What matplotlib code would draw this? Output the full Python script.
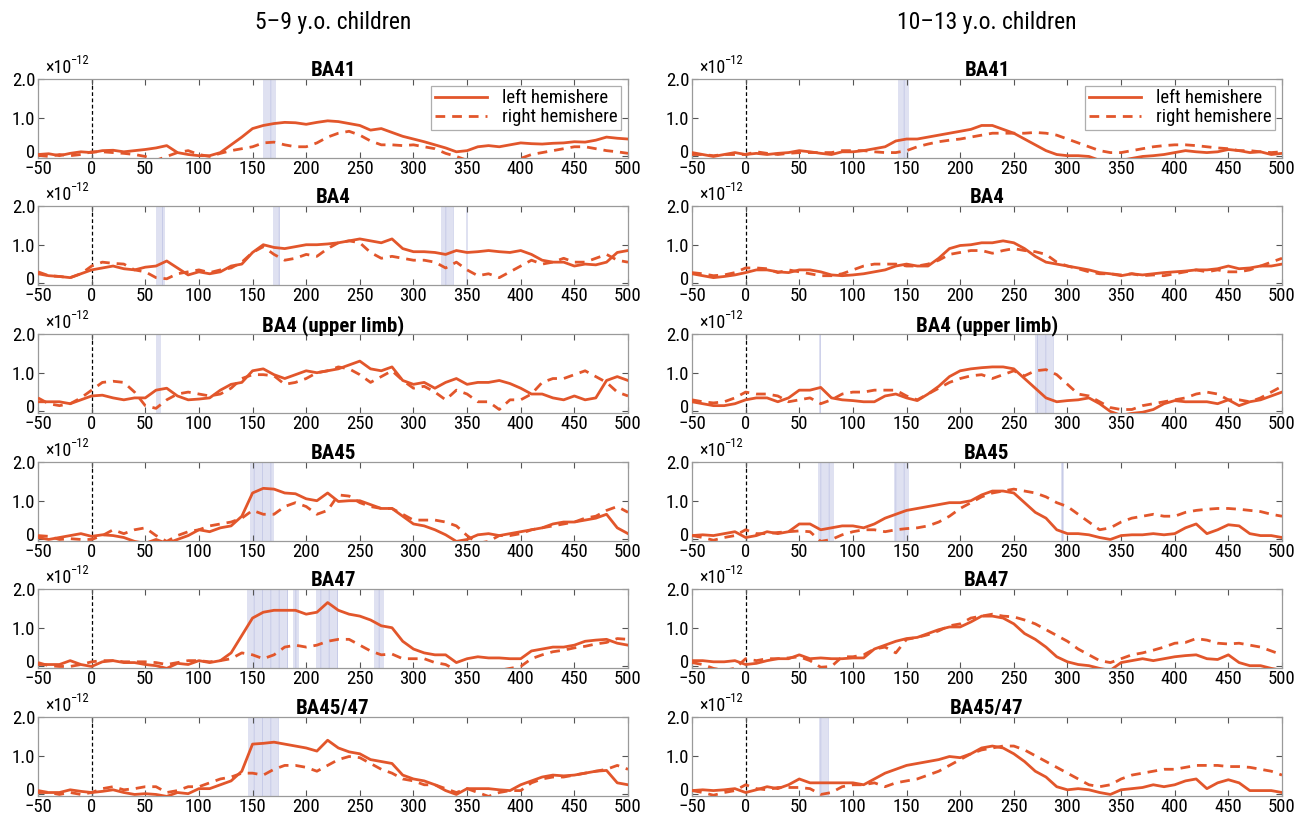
import numpy as np
import matplotlib
matplotlib.use('Agg')
import matplotlib.pyplot as plt
from matplotlib import font_manager
from matplotlib.transforms import ScaledTranslation

names = set(f.name for f in font_manager.fontManager.ttflist)
cond = [n for n in ['Roboto Condensed', 'Liberation Sans Narrow', 'DejaVu Sans Condensed'] if n in names]
plt.rcParams['font.family'] = cond + ['DejaVu Sans']
plt.rcParams['font.stretch'] = 'condensed'
plt.rcParams['hatch.linewidth'] = 0.6

# time axis, ms (sampled every 10 ms)
time_ms = np.arange(-50, 501, 10)

# ---------------- 5-9 y.o. children ----------------
ba41_young_left = [0.05, 0.07, 0.02, 0.08, 0.12,
                   0.10, 0.15, 0.16, 0.12, 0.15, 0.18, 0.22, 0.28, 0.10, 0.05,
                   0.02, 0.02, 0.10, 0.30, 0.50, 0.72, 0.80, 0.85, 0.88, 0.87,
                   0.83, 0.88, 0.92, 0.90, 0.85, 0.80, 0.68, 0.72, 0.62, 0.52,
                   0.45, 0.38, 0.30, 0.22, 0.12, 0.15, 0.25, 0.28, 0.25, 0.30,
                   0.35, 0.33, 0.32, 0.34, 0.35, 0.38, 0.37, 0.42, 0.50, 0.47,
                   0.45]
ba41_young_right = [0.03, 0.00, 0.05, 0.02, 0.05,
                    0.12, 0.12, 0.10, 0.08, 0.05, 0.00, -0.10, 0.00, 0.10, 0.15,
                    0.05, 0.00, 0.08, 0.15, 0.20, 0.25, 0.35, 0.37, 0.30, 0.25,
                    0.25, 0.35, 0.50, 0.60, 0.65, 0.55, 0.40, 0.30, 0.30, 0.28,
                    0.30, 0.25, 0.20, 0.08, 0.00, -0.10, -0.20, -0.20, -0.20, -0.15,
                    -0.05, 0.05, 0.10, 0.15, 0.20, 0.25, 0.25, 0.20, 0.15, 0.12,
                    0.08]
ba4_young_left = [0.25, 0.20, 0.18, 0.15, 0.25,
                  0.35, 0.40, 0.45, 0.38, 0.35, 0.42, 0.45, 0.58, 0.40, 0.22,
                  0.30, 0.25, 0.30, 0.45, 0.50, 0.80, 1.00, 0.93, 0.90, 0.95,
                  1.00, 1.00, 1.02, 1.05, 1.10, 1.15, 1.10, 1.05, 1.15, 0.90,
                  0.82, 0.82, 0.80, 0.75, 0.85, 0.80, 0.82, 0.85, 0.82, 0.80,
                  0.85, 0.75, 0.60, 0.55, 0.55, 0.45, 0.50, 0.48, 0.55, 0.80,
                  0.85]
ba4_young_right = [0.30, 0.20, 0.18, 0.15, 0.25,
                   0.45, 0.55, 0.52, 0.50, 0.35, 0.30, 0.15, 0.12, 0.25, 0.30,
                   0.35, 0.28, 0.35, 0.40, 0.55, 0.80, 0.95, 0.75, 0.60, 0.65,
                   0.75, 0.70, 0.90, 1.05, 1.10, 1.05, 0.80, 0.65, 0.70, 0.65,
                   0.60, 0.60, 0.55, 0.40, 0.55, 0.35, 0.20, 0.25, 0.15, 0.30,
                   0.45, 0.60, 0.50, 0.55, 0.65, 0.55, 0.55, 0.65, 0.75, 0.60,
                   0.55]
ba4ul_young_left = [0.25, 0.25, 0.25, 0.20, 0.30,
                    0.40, 0.42, 0.35, 0.30, 0.35, 0.35, 0.55, 0.60, 0.40, 0.30,
                    0.32, 0.35, 0.55, 0.70, 0.75, 1.05, 1.10, 0.95, 0.85, 0.95,
                    1.05, 1.00, 1.05, 1.10, 1.20, 1.30, 1.10, 1.05, 1.15, 0.80,
                    0.70, 0.75, 0.60, 0.75, 0.85, 0.70, 0.75, 0.75, 0.80, 0.72,
                    0.60, 0.45, 0.45, 0.35, 0.30, 0.40, 0.30, 0.35, 0.80, 0.90,
                    0.80]
ba4ul_young_right = [0.35, 0.20, 0.15, 0.20, 0.35,
                     0.55, 0.75, 0.78, 0.75, 0.50, 0.15, 0.08, 0.30, 0.45, 0.50,
                     0.45, 0.40, 0.45, 0.60, 0.85, 0.95, 0.95, 0.92, 0.70, 0.75,
                     0.85, 1.00, 1.05, 1.15, 1.10, 0.95, 0.75, 0.90, 1.05, 0.80,
                     0.60, 0.65, 0.50, 0.30, 0.55, 0.45, 0.25, 0.25, 0.05, 0.30,
                     0.30, 0.45, 0.75, 0.85, 0.85, 0.95, 1.05, 0.90, 0.75, 0.50,
                     0.40]
ba45_young_left = [0.05, 0.00, 0.05, 0.10, 0.15,
                   0.08, 0.12, 0.10, 0.05, -0.05, -0.10, 0.00, -0.10, 0.00, 0.10,
                   0.25, 0.20, 0.30, 0.35, 0.60, 1.20, 1.32, 1.30, 1.20, 1.18,
                   1.05, 1.00, 1.20, 0.98, 1.00, 1.00, 0.90, 0.80, 0.80, 0.60,
                   0.40, 0.35, 0.25, 0.12, -0.05, 0.00, 0.12, 0.15, 0.10, 0.15,
                   0.20, 0.25, 0.30, 0.40, 0.45, 0.45, 0.50, 0.55, 0.65, 0.30,
                   0.15]
ba45_young_right = [0.10, 0.08, 0.00, 0.02, 0.00,
                    0.00, 0.10, 0.25, 0.15, 0.25, 0.30, 0.10, -0.05, 0.10, 0.20,
                    0.25, 0.35, 0.40, 0.45, 0.55, 0.75, 0.65, 0.65, 0.85, 0.95,
                    0.85, 0.65, 0.75, 1.15, 1.12, 0.95, 0.85, 0.80, 0.80, 0.65,
                    0.50, 0.50, 0.50, 0.45, 0.35, 0.10, -0.10, -0.05, 0.10, 0.10,
                    0.15, 0.25, 0.30, 0.35, 0.40, 0.45, 0.55, 0.60, 0.75, 0.85,
                    0.70]
ba47_young_left = [0.05, 0.05, 0.05, 0.15, 0.05,
                   0.00, 0.12, 0.15, 0.10, 0.10, 0.05, 0.02, -0.05, 0.08, 0.05,
                   0.15, 0.10, 0.15, 0.35, 0.80, 1.25, 1.40, 1.45, 1.45, 1.45,
                   1.35, 1.40, 1.65, 1.45, 1.35, 1.30, 1.20, 1.05, 1.00, 0.65,
                   0.45, 0.35, 0.30, 0.30, 0.10, 0.20, 0.25, 0.22, 0.22, 0.20,
                   0.20, 0.40, 0.45, 0.50, 0.50, 0.55, 0.65, 0.68, 0.70, 0.60,
                   0.55]
ba47_young_right = [0.10, 0.02, 0.00, 0.00, 0.05,
                    0.12, 0.15, 0.15, 0.12, 0.12, 0.12, 0.10, 0.05, 0.10, 0.15,
                    0.15, 0.12, 0.15, 0.20, 0.35, 0.30, 0.20, 0.30, 0.50, 0.55,
                    0.50, 0.55, 0.65, 0.70, 0.70, 0.55, 0.40, 0.30, 0.32, 0.20,
                    0.20, 0.20, 0.10, 0.05, -0.10, -0.20, -0.20, -0.20, -0.10, -0.05,
                    0.00, 0.20, 0.30, 0.38, 0.42, 0.48, 0.52, 0.58, 0.62, 0.72,
                    0.70]
ba4547_young_left = [0.05, 0.05, 0.05, 0.12, 0.08,
                     0.05, 0.08, 0.12, 0.05, 0.00, 0.02, 0.00, -0.05, 0.05, 0.02,
                     0.15, 0.15, 0.25, 0.35, 0.60, 1.30, 1.32, 1.35, 1.30, 1.25,
                     1.20, 1.12, 1.40, 1.20, 1.10, 1.05, 0.90, 0.85, 0.80, 0.50,
                     0.40, 0.35, 0.25, 0.10, 0.00, 0.15, 0.15, 0.15, 0.12, 0.10,
                     0.25, 0.35, 0.45, 0.50, 0.48, 0.50, 0.55, 0.60, 0.62, 0.30,
                     0.25]
ba4547_young_right = [0.10, 0.05, 0.00, 0.05, 0.00,
                      0.05, 0.15, 0.20, 0.12, 0.15, 0.20, 0.20, 0.05, 0.10, 0.20,
                      0.20, 0.30, 0.40, 0.45, 0.55, 0.55, 0.50, 0.65, 0.75, 0.75,
                      0.70, 0.60, 0.75, 0.90, 0.98, 0.95, 0.80, 0.65, 0.55, 0.40,
                      0.35, 0.25, 0.25, 0.15, 0.05, 0.15, 0.05, -0.05, 0.05, 0.10,
                      0.10, 0.30, 0.40, 0.45, 0.45, 0.50, 0.55, 0.60, 0.65, 0.75,
                      0.65]

# ---------------- 10-13 y.o. children ----------------
ba41_old_left = [0.10, 0.05, 0.00, 0.05, 0.10,
                 0.05, 0.08, 0.05, 0.08, 0.10, 0.15, 0.12, 0.08, 0.05, 0.12,
                 0.12, 0.15, 0.20, 0.25, 0.40, 0.45, 0.45, 0.50, 0.55, 0.60,
                 0.65, 0.70, 0.80, 0.80, 0.70, 0.60, 0.45, 0.30, 0.15, 0.05,
                 0.02, 0.02, 0.00, -0.10, -0.15, -0.10, -0.05, 0.00, 0.02, 0.05,
                 0.10, 0.15, 0.12, 0.10, 0.12, 0.18, 0.15, 0.10, 0.12, 0.05,
                 0.08]
ba41_old_right = [0.05, 0.05, 0.02, 0.05, 0.05,
                  0.05, 0.12, 0.08, 0.05, 0.08, 0.10, 0.10, 0.10, 0.10, 0.15,
                  0.15, 0.15, 0.12, 0.10, 0.10, 0.15, 0.25, 0.32, 0.38, 0.42,
                  0.45, 0.50, 0.55, 0.60, 0.60, 0.60, 0.60, 0.62, 0.60, 0.55,
                  0.45, 0.35, 0.25, 0.15, 0.10, 0.10, 0.15, 0.20, 0.25, 0.28,
                  0.30, 0.30, 0.28, 0.25, 0.22, 0.20, 0.15, 0.15, 0.12, 0.10,
                  0.12]
ba4_old_left = [0.25, 0.20, 0.15, 0.18, 0.22,
                0.28, 0.35, 0.35, 0.30, 0.28, 0.35, 0.35, 0.30, 0.22, 0.20,
                0.22, 0.25, 0.30, 0.35, 0.45, 0.50, 0.45, 0.45, 0.65, 0.90,
                0.98, 1.00, 1.05, 1.05, 1.10, 1.05, 0.90, 0.70, 0.55, 0.50,
                0.45, 0.40, 0.35, 0.28, 0.25, 0.20, 0.25, 0.22, 0.25, 0.28,
                0.30, 0.32, 0.35, 0.35, 0.38, 0.45, 0.38, 0.40, 0.45, 0.45,
                0.50]
ba4_old_right = [0.28, 0.25, 0.20, 0.22, 0.28,
                 0.40, 0.40, 0.38, 0.28, 0.35, 0.30, 0.25, 0.20, 0.20, 0.25,
                 0.35, 0.45, 0.50, 0.50, 0.50, 0.45, 0.45, 0.50, 0.60, 0.75,
                 0.80, 0.85, 0.85, 0.78, 0.85, 0.90, 0.85, 0.82, 0.75, 0.55,
                 0.45, 0.38, 0.30, 0.25, 0.25, 0.22, 0.25, 0.20, 0.22, 0.20,
                 0.25, 0.30, 0.35, 0.30, 0.35, 0.30, 0.30, 0.35, 0.45, 0.55,
                 0.65]
ba4ul_old_left = [0.25, 0.20, 0.15, 0.15, 0.20,
                  0.30, 0.35, 0.35, 0.25, 0.35, 0.55, 0.55, 0.62, 0.35, 0.30,
                  0.28, 0.25, 0.25, 0.40, 0.45, 0.35, 0.28, 0.45, 0.65, 0.90,
                  1.05, 1.10, 1.13, 1.15, 1.15, 1.10, 0.85, 0.60, 0.35, 0.25,
                  0.28, 0.30, 0.35, 0.20, 0.00, -0.10, -0.05, -0.02, 0.05, 0.20,
                  0.28, 0.25, 0.25, 0.25, 0.20, 0.30, 0.15, 0.25, 0.30, 0.40,
                  0.50]
ba4ul_old_right = [0.30, 0.25, 0.22, 0.25, 0.35,
                   0.50, 0.45, 0.45, 0.40, 0.25, 0.30, 0.35, 0.20, 0.30, 0.45,
                   0.50, 0.50, 0.55, 0.55, 0.55, 0.40, 0.30, 0.45, 0.60, 0.75,
                   0.85, 0.92, 0.95, 0.85, 0.95, 1.05, 0.92, 1.05, 1.08, 0.95,
                   0.70, 0.45, 0.40, 0.25, 0.10, 0.05, 0.05, 0.15, 0.20, 0.25,
                   0.30, 0.35, 0.45, 0.50, 0.45, 0.30, 0.30, 0.25, 0.35, 0.50,
                   0.65]
ba45_old_left = [0.10, 0.12, 0.10, 0.15, 0.20,
                 0.05, 0.10, 0.20, 0.15, 0.20, 0.40, 0.40, 0.25, 0.30, 0.35,
                 0.35, 0.30, 0.40, 0.55, 0.65, 0.75, 0.80, 0.85, 0.90, 0.95,
                 0.95, 1.00, 1.15, 1.25, 1.25, 1.20, 0.95, 0.70, 0.55, 0.25,
                 0.15, 0.15, 0.12, 0.05, 0.00, 0.10, 0.12, 0.12, 0.15, 0.12,
                 0.15, 0.30, 0.40, 0.15, 0.25, 0.38, 0.35, 0.15, 0.10, 0.10,
                 0.05]
ba45_old_right = [0.10, 0.05, -0.02, 0.05, 0.10,
                  0.25, 0.15, 0.15, 0.18, 0.20, 0.22, 0.20, -0.05, 0.00, 0.12,
                  0.20, 0.25, 0.25, 0.20, 0.25, 0.28, 0.30, 0.35, 0.45, 0.60,
                  0.80, 0.95, 1.10, 1.20, 1.25, 1.30, 1.25, 1.20, 1.10, 0.95,
                  0.85, 0.65, 0.45, 0.25, 0.30, 0.45, 0.55, 0.60, 0.65, 0.60,
                  0.60, 0.70, 0.75, 0.78, 0.80, 0.80, 0.78, 0.75, 0.72, 0.65,
                  0.60]
ba47_old_left = [0.15, 0.15, 0.12, 0.12, 0.15,
                 0.05, 0.08, 0.15, 0.20, 0.20, 0.30, 0.20, 0.22, 0.20, 0.20,
                 0.22, 0.22, 0.45, 0.55, 0.65, 0.72, 0.75, 0.85, 0.95, 1.02,
                 1.02, 1.15, 1.30, 1.30, 1.25, 1.10, 0.85, 0.70, 0.50, 0.25,
                 0.12, 0.05, 0.02, -0.05, -0.10, 0.10, 0.15, 0.20, 0.15, 0.20,
                 0.25, 0.28, 0.30, 0.20, 0.18, 0.30, 0.10, 0.02, 0.02, -0.05,
                 -0.10]
ba47_old_right = [0.10, 0.05, -0.05, -0.10, -0.05,
                  0.20, 0.15, 0.20, 0.20, 0.22, 0.25, 0.15, -0.02, 0.00, 0.25,
                  0.25, 0.30, 0.45, 0.50, 0.35, 0.70, 0.75, 0.82, 0.92, 1.05,
                  1.10, 1.25, 1.30, 1.35, 1.30, 1.28, 1.20, 1.10, 0.95, 0.80,
                  0.65, 0.45, 0.30, 0.15, 0.10, 0.20, 0.30, 0.35, 0.42, 0.50,
                  0.60, 0.62, 0.72, 0.68, 0.60, 0.58, 0.60, 0.55, 0.50, 0.40,
                  0.30]
ba4547_old_left = [0.10, 0.12, 0.10, 0.12, 0.15,
                   0.05, 0.12, 0.20, 0.15, 0.25, 0.40, 0.30, 0.30, 0.30, 0.30,
                   0.30, 0.25, 0.40, 0.55, 0.65, 0.75, 0.80, 0.85, 0.90, 0.98,
                   0.95, 1.05, 1.20, 1.25, 1.20, 1.05, 0.85, 0.60, 0.45, 0.20,
                   0.12, 0.15, 0.12, 0.05, 0.00, 0.12, 0.15, 0.18, 0.25, 0.20,
                   0.25, 0.35, 0.40, 0.15, 0.30, 0.38, 0.30, 0.10, 0.10, 0.10,
                   0.05]
ba4547_old_right = [0.10, 0.05, -0.02, 0.05, 0.10,
                    0.25, 0.15, 0.12, 0.18, 0.18, 0.18, 0.15, 0.00, 0.05, 0.20,
                    0.25, 0.25, 0.30, 0.20, 0.30, 0.35, 0.40, 0.50, 0.60, 0.75,
                    0.90, 1.05, 1.15, 1.20, 1.25, 1.25, 1.15, 1.00, 0.85, 0.70,
                    0.55, 0.40, 0.25, 0.20, 0.25, 0.40, 0.50, 0.55, 0.60, 0.65,
                    0.65, 0.70, 0.75, 0.75, 0.75, 0.72, 0.72, 0.70, 0.65, 0.60,
                    0.50]

titles = ['BA41', 'BA4', 'BA4 (upper limb)', 'BA45', 'BA47', 'BA45/47']
group_titles = ['5\u20139 y.o. children', '10\u201313 y.o. children']

young_left = [ba41_young_left, ba4_young_left, ba4ul_young_left, ba45_young_left, ba47_young_left, ba4547_young_left]
young_right = [ba41_young_right, ba4_young_right, ba4ul_young_right, ba45_young_right, ba47_young_right, ba4547_young_right]
old_left = [ba41_old_left, ba4_old_left, ba4ul_old_left, ba45_old_left, ba47_old_left, ba4547_old_left]
old_right = [ba41_old_right, ba4_old_right, ba4ul_old_right, ba45_old_right, ba47_old_right, ba4547_old_right]

# significant intervals (ms)
young_sig = [[(160, 172)],
             [(60, 68), (169, 176), (326, 338), (349, 351)],
             [(60, 65)],
             [(148, 170)],
             [(145, 183), (188, 193), (209, 230), (263, 273)],
             [(146, 175)]]
old_sig = [[(142, 152)],
           [],
           [(68, 70), (270, 287)],
           [(67, 82), (138, 152), (294, 297)],
           [],
           [(68, 78)]]

line_color = '#e2562b'
fig = plt.figure(figsize=(13.06, 8.19), dpi=100)

col_left = [38 / 1306, 692 / 1306]
col_width = 590 / 1306
row_tops = [79, 206, 334, 462, 589, 717]
ax_h = 79 / 819

columns = [(young_left, young_right, young_sig), (old_left, old_right, old_sig)]

for c, (lefts, rights, sigs) in enumerate(columns):
    for r in range(6):
        bottom = 1 - (row_tops[r] + 79) / 819
        ax = fig.add_axes([col_left[c], bottom, col_width, ax_h])
        for a, b in sigs[r]:
            ax.axvspan(a, b, facecolor='#dfe1f1', edgecolor='#c3c7e6', hatch='||', linewidth=0, zorder=0)
        ax.axvline(0, color='black', linestyle=(0, (3, 2)), linewidth=0.9, zorder=1)
        ax.plot(time_ms, lefts[r], color=line_color, linewidth=2, label='left hemishere', zorder=3)
        ax.plot(time_ms, rights[r], color=line_color, linewidth=2, linestyle=(0, (3.5, 2.5)),
                label='right hemishere', zorder=3)
        ax.set_xlim(-50, 500)
        ax.set_ylim(-0.04, 2)
        ax.set_xticks(np.arange(-50, 501, 50))
        ax.set_xticklabels([str(t).replace('-', '\u2212') for t in range(-50, 501, 50)])
        ax.set_yticks([0, 1, 2])
        ax.set_yticklabels(['0', '1.0', '2.0'])
        ax.tick_params(direction='in', top=True, right=True, length=4, width=0.8,
                       labelsize=13.5, pad=2, color='#555555')
        ax.tick_params(axis='x', pad=1.5)
        # lift the "0" label a little, like the original
        zero_lab = ax.get_yticklabels()[0]
        zero_lab.set_transform(zero_lab.get_transform() + ScaledTranslation(0, 4 / 72, fig.dpi_scale_trans))
        for s in ax.spines.values():
            s.set_color('#9a9a9a')
            s.set_linewidth(0.9)
        ax.set_title(titles[r], fontsize=15, fontweight='bold', pad=2)
        ax.text(0.012, 1.03, '\u00d710', transform=ax.transAxes, fontsize=13, va='bottom')
        ax.annotate('\u221212', xy=(0.012, 1.03), xycoords='axes fraction',
                    xytext=(18, 7), textcoords='offset points', fontsize=9, va='bottom')
        if r == 0:
            ax.legend(loc='upper right', fontsize=13.5, frameon=True, fancybox=False,
                      edgecolor='#9a9a9a', handlelength=2.8, borderpad=0.2,
                      labelspacing=0.05, borderaxespad=0.35).get_frame().set_linewidth(0.9)
    fig.text(col_left[c] + col_width / 2, 1 - 22 / 819, group_titles[c],
             ha='center', va='center', fontsize=17)

fig.savefig('out.png', dpi=100)
